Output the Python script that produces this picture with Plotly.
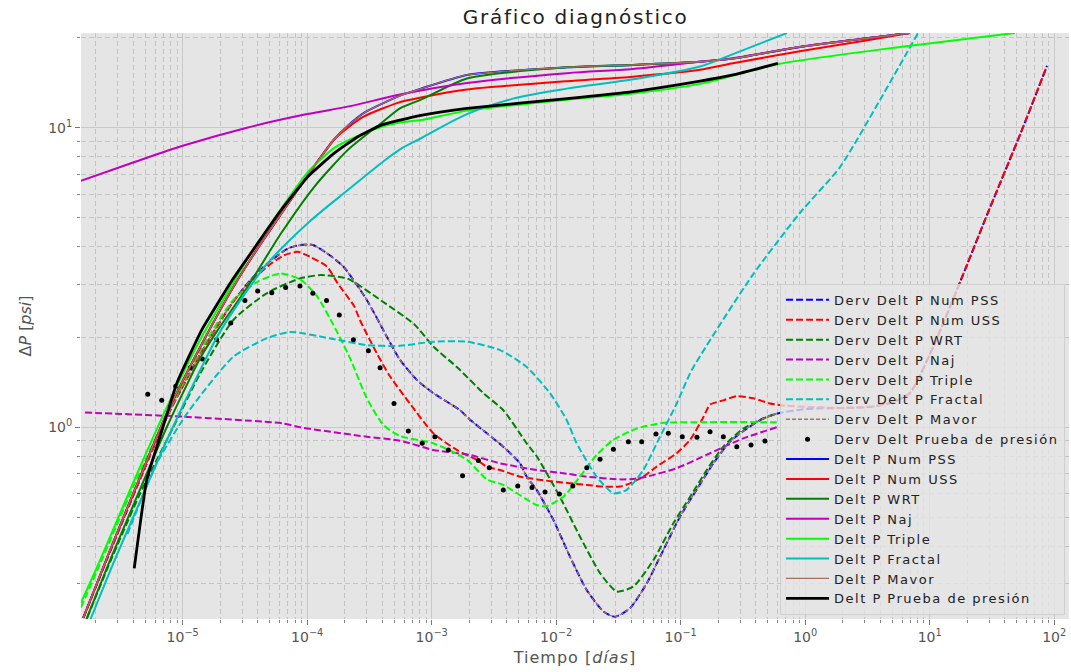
import numpy as np
import plotly.graph_objects as go

# ---------------- derivative curves (dashed) ----------------
t_dpss = [1.59e-6, 2.61e-6, 4.54e-6, 7.44e-6, 1.38e-5, 2.5e-5, 3.5e-5, 4.82e-5, 7.0e-5, 8.75e-5,
          1.11e-4, 1.44e-4, 1.95e-4, 3.01e-4, 4.35e-4, 5.56e-4, 7.58e-4, 1.03e-3, 1.69e-3, 2.03e-3,
          2.77e-3, 3.76e-3, 5.12e-3, 5.79e-3, 6.97e-3, 9.48e-3, 1.29e-2, 1.76e-2, 2.39e-2, 2.97e-2,
          3.92e-2, 5.33e-2, 7.25e-2, 9.87e-2, 0.134, 0.183, 0.249, 0.339, 0.461, 0.59,
          1.0, 2.0, 3.3, 5.0, 6.93, 10.7, 19.2, 27.8, 55.1, 87.5]
d_pss = [0.231, 0.385, 0.67, 1.08, 1.75, 2.6, 3.1, 3.53, 3.95, 4.06,
         4.06, 3.81, 3.44, 2.66, 2.01, 1.68, 1.44, 1.30, 1.14, 1.06,
         0.955, 0.861, 0.758, 0.684, 0.618, 0.491, 0.370, 0.286, 0.243, 0.233,
         0.249, 0.301, 0.389, 0.503, 0.618, 0.758, 0.895, 0.99, 1.07, 1.11,
         1.15, 1.16, 1.17, 1.21, 1.30, 1.86, 3.35, 4.92, 9.83, 16.07]

t_duss = [1.59e-6, 2.61e-6, 4.54e-6, 7.44e-6, 1.38e-5, 2.5e-5, 3.5e-5, 4.82e-5, 6.5e-5, 8.4e-5,
          1.05e-4, 1.44e-4, 1.76e-4, 2.39e-4, 2.65e-4, 3.61e-4, 4.62e-4, 6.68e-4, 1.03e-3, 1.59e-3,
          2.3e-3, 2.77e-3, 3.54e-3, 5.12e-3, 9.48e-3, 1.76e-2, 2.39e-2, 3.25e-2, 3.92e-2, 5.01e-2,
          6.41e-2, 9.28e-2, 0.119, 0.152, 0.172, 0.22, 0.282, 0.383, 0.521, 0.7,
          1.0, 2.0, 3.3, 5.0, 6.93, 10.7, 19.2, 27.8, 55.1, 87.5]
d_uss = [0.231, 0.385, 0.67, 1.08, 1.75, 2.6, 3.05, 3.45, 3.75, 3.85,
         3.71, 3.44, 3.02, 2.53, 2.28, 1.77, 1.48, 1.20, 0.955, 0.84,
         0.778, 0.739, 0.72, 0.684, 0.659, 0.642, 0.634, 0.634, 0.65, 0.684,
         0.739, 0.819, 0.908, 1.08, 1.19, 1.23, 1.27, 1.25, 1.20, 1.18,
         1.17, 1.16, 1.17, 1.21, 1.30, 1.86, 3.35, 4.92, 9.83, 16.07]

t_dwrt = [1.59e-6, 2.61e-6, 4.54e-6, 8.4e-6, 1.38e-5, 2.55e-5, 4.72e-5, 8.75e-5, 1.29e-4, 2.12e-4,
          3.92e-4, 7.3e-4, 1.03e-3, 1.59e-3, 2.6e-3, 3.76e-3, 5.79e-3, 6.97e-3, 1.07e-2, 1.55e-2,
          2.25e-2, 3.06e-2, 4.16e-2, 6.03e-2, 8.73e-2, 0.119, 0.162, 0.22, 0.318, 0.461, 0.59]
d_wrt = [0.215, 0.355, 0.6, 1.0, 1.51, 2.28, 2.80, 3.14, 3.22, 3.13,
         2.65, 2.2, 1.86, 1.59, 1.30, 1.14, 0.884, 0.80, 0.586, 0.432,
         0.326, 0.283, 0.294, 0.36, 0.478, 0.586, 0.72, 0.862, 0.99, 1.07, 1.11]

t_dnaj = [1.64e-6, 1.0e-5, 6.4e-5, 8.75e-5, 3.01e-4, 5.56e-4, 1.03e-3, 2.03e-3, 3.54e-3, 6.97e-3,
          1.21e-2, 1.76e-2, 3.25e-2, 4.16e-2, 5.33e-2, 9.28e-2, 0.172, 0.318, 0.59]
d_naj = [1.12, 1.085, 1.03, 1.0, 0.93, 0.902, 0.84, 0.808, 0.758, 0.72,
         0.70, 0.684, 0.67, 0.672, 0.684, 0.73, 0.819, 0.918, 1.0]

t_dtri = [1.52e-6, 2.17e-6, 3.99e-6, 7.48e-6, 1.38e-5, 2.55e-5, 4.0e-5, 6.05e-5, 8.75e-5, 1.19e-4,
          1.62e-4, 2.21e-4, 3.01e-4, 4.08e-4, 5.56e-4, 1.03e-3, 1.91e-3, 2.77e-3, 3.76e-3, 6.97e-3,
          8.4e-3, 1.14e-2, 1.55e-2, 2.11e-2, 2.88e-2, 4.43e-2, 7.25e-2, 0.152, 0.59]
d_tri = [0.25, 0.35, 0.63, 1.1, 1.8, 2.66, 3.06, 3.26, 3.12, 2.75,
         2.2, 1.70, 1.25, 1.02, 0.935, 0.884, 0.78, 0.67, 0.642, 0.55,
         0.546, 0.586, 0.684, 0.808, 0.908, 0.99, 1.035, 1.04, 1.04]

t_dfra = [3.6e-6, 6.19e-6, 1.08e-5, 2.55e-5, 4.72e-5, 7.3e-5, 1.62e-4, 3.01e-4, 5.56e-4, 1.03e-3,
          1.91e-3, 3.54e-3, 5.79e-3, 8.91e-3, 1.21e-2, 1.46e-2, 2.11e-2, 2.88e-2, 3.68e-2, 5.01e-2,
          6.82e-2, 9.29e-2, 0.1225, 0.374, 0.91, 1.91, 4.0, 8.07]
d_fra = [0.44, 0.758, 1.11, 1.72, 1.98, 2.08, 1.97, 1.88, 1.87, 1.93,
         1.93, 1.81, 1.59, 1.30, 1.06, 0.884, 0.684, 0.602, 0.618, 0.72,
         0.93, 1.20, 1.55, 3.2, 5.2, 7.4, 12.4, 20.7]

# Mavor derivative overlaps the PSS derivative up to the end of the test
t_dmav = t_dpss[:40]
d_mav = d_pss[:40]

# measured pressure derivative (points)
t_dtest = [5.24e-6, 6.78e-6, 8.79e-6, 1.15e-5, 1.44e-5, 1.87e-5, 2.43e-5, 3.16e-5, 4.0e-5, 5.19e-5,
           6.71e-5, 8.75e-5, 1.11e-4, 1.43e-4, 1.81e-4, 2.35e-4, 3.1e-4, 3.85e-4, 4.98e-4, 6.49e-4,
           8.4e-4, 1.06e-3, 1.36e-3, 1.77e-3, 2.37e-3, 2.9e-3, 3.76e-3, 4.91e-3, 6.39e-3, 8.13e-3,
           1.06e-2, 1.36e-2, 1.76e-2, 2.25e-2, 2.88e-2, 3.8e-2, 4.86e-2, 6.33e-2, 7.95e-2, 0.103,
           0.135, 0.172, 0.22, 0.282, 0.367, 0.475]
d_test = [1.29, 1.23, 1.37, 1.58, 1.69, 1.96, 2.23, 2.65, 2.85, 2.81,
          2.93, 2.96, 2.80, 2.65, 2.37, 1.96, 1.80, 1.58, 1.20, 0.972,
          0.885, 0.93, 0.84, 0.689, 0.774, 0.733, 0.618, 0.637, 0.629, 0.608,
          0.599, 0.637, 0.733, 0.782, 0.845, 0.895, 0.895, 0.95, 0.955, 0.93,
          0.926, 0.967, 0.93, 0.861, 0.873, 0.90]

# ---------------- pressure change curves (solid) ----------------
t_pss = [1.59e-6, 2.61e-6, 4.54e-6, 7.44e-6, 1.38e-5, 2.55e-5, 3.93e-5, 6.17e-5, 1.14e-4, 1.65e-4,
         2.12e-4, 2.86e-4, 5.33e-4, 8.2e-4, 1.92e-3, 1.22e-2, 4.14e-2, 0.143, 0.263, 0.906, 6.93]
p_pss = [0.231, 0.389, 0.682, 1.11, 1.85, 2.94, 3.91, 5.15, 7.45, 9.15,
         10.15, 11.2, 12.7, 13.5, 15.0, 15.9, 16.2, 16.6, 17.0, 18.6, 20.7]

t_uss = [1.59e-6, 2.61e-6, 4.54e-6, 7.44e-6, 1.38e-5, 2.55e-5, 3.93e-5, 6.17e-5, 1.14e-4, 1.65e-4,
         2.12e-4, 2.86e-4, 5.33e-4, 8.2e-4, 1.92e-3, 1.22e-2, 4.14e-2, 0.143, 0.263, 0.906, 3.0, 6.93]
p_uss = [0.231, 0.389, 0.682, 1.11, 1.85, 2.94, 3.91, 5.15, 7.45, 9.15,
         10.0, 10.9, 12.1, 12.6, 13.4, 14.3, 14.8, 15.6, 16.4, 18.0, 19.5, 20.7]

t_wrt = [1.59e-6, 2.61e-6, 4.54e-6, 7.44e-6, 1.38e-5, 1.91e-5, 3.33e-5, 6.17e-5, 1.14e-4, 2.12e-4,
         3.92e-4, 5.56e-4, 8.2e-4, 1.92e-3, 1.22e-2, 4.14e-2, 0.143, 0.263, 0.906, 6.93]
p_wrt = [0.215, 0.36, 0.62, 1.0, 1.7, 2.11, 2.95, 4.44, 6.35, 8.43,
         10.35, 11.6, 12.4, 14.6, 15.9, 16.2, 16.6, 17.0, 18.6, 20.7]

t_naj = [1.52e-6, 4.0e-6, 1.0e-5, 3.28e-5, 1.0e-4, 2.21e-4, 5.56e-4, 1.92e-3, 1.22e-2, 4.14e-2,
         0.143, 0.263, 0.906, 6.93]
p_naj = [6.65, 7.65, 8.7, 10.0, 11.1, 11.8, 12.9, 14.1, 15.2, 15.7,
         16.6, 17.06, 18.6, 20.7]

t_tri = [1.52e-6, 2.17e-6, 3.99e-6, 7.48e-6, 1.38e-5, 2.54e-5, 3.67e-5, 6.17e-5, 1.01e-4, 1.65e-4,
         2.55e-4, 3.92e-4, 5.56e-4, 8.2e-4, 1.92e-3, 1.22e-2, 4.14e-2, 0.143, 0.604, 5.77, 48.4]
p_tri = [0.259, 0.36, 0.652, 1.17, 1.96, 3.03, 3.91, 5.36, 7.11, 8.56,
         9.38, 10.05, 10.4, 10.6, 11.4, 12.4, 13.0, 14.0, 16.3, 18.6, 20.7]

t_fra = [1.6e-6, 2.6e-6, 4.5e-6, 7.4e-6, 1.38e-5, 2.03e-5, 4.82e-5, 1.01e-4, 2.12e-4, 3.92e-4,
         5.56e-4, 8.2e-4, 1.92e-3, 4.5e-3, 1.22e-2, 4.14e-2, 0.143, 0.263, 0.713]
p_fra = [0.2, 0.33, 0.56, 0.9, 1.55, 2.11, 3.53, 4.80, 6.19, 7.61,
         8.47, 9.22, 11.1, 12.5, 13.5, 14.5, 16.0, 17.6, 20.7]

# Mavor pressure response overlaps the PSS solution
t_mav = t_pss
p_mav = p_pss

t_test = [4.08e-6, 5.14e-6, 6.57e-6, 8.95e-6, 1.42e-5, 2.5e-5, 4.0e-5, 6.17e-5, 1.01e-4, 1.65e-4,
          2.55e-4, 3.92e-4, 5.56e-4, 8.2e-4, 1.92e-3, 1.22e-2, 4.14e-2, 0.143, 0.263, 0.604]
p_test = [0.338, 0.667, 0.93, 1.40, 2.11, 3.1, 4.11, 5.31, 6.86, 8.22,
          9.33, 10.2, 10.6, 11.0, 11.6, 12.5, 13.2, 14.3, 15.0, 16.4]

# ---------------- styles ----------------
BLUE, RED, DGREEN = "#0000ff", "#ff0000", "#008000"
MAG, LIME, CYAN = "#bf00bf", "#00ff00", "#00bfbf"
BROWN, BLACK = "#a86f5a", "#000000"
DASH = "7px,3px"
DASH_THIN = "4px,2px"
SMOOTH = 0.6

fig = go.Figure()


def spaced(text, px):
    return '<span style="letter-spacing:%spx">%s</span>' % (px, text)


def add_line(t, v, name, color, width=2.0, dash="solid", smooth=SMOOTH):
    fig.add_trace(go.Scatter(x=t, y=v, mode="lines", name=spaced(name, 1.5),
                             line=dict(color=color, width=width, dash=dash,
                                       shape="spline", smoothing=smooth)))


add_line(t_dpss, d_pss, "Derv Delt P Num PSS", BLUE, dash=DASH)
add_line(t_duss, d_uss, "Derv Delt P Num USS", RED, dash=DASH)
add_line(t_dwrt, d_wrt, "Derv Delt P WRT", DGREEN, dash=DASH)
add_line(t_dnaj, d_naj, "Derv Delt P Naj", MAG, dash=DASH)
add_line(t_dtri, d_tri, "Derv Delt P Triple", LIME, dash=DASH)
add_line(t_dfra, d_fra, "Derv Delt P Fractal", CYAN, dash=DASH)
add_line(t_dmav, d_mav, "Derv Delt P Mavor", BROWN, width=1.3, dash=DASH_THIN)
fig.add_trace(go.Scatter(x=t_dtest, y=d_test, mode="markers",
                         name=spaced("Derv Delt Prueba de presión", 1.5),
                         marker=dict(color=BLACK, size=5)))
add_line(t_pss, p_pss, "Delt P Num PSS", BLUE)
add_line(t_uss, p_uss, "Delt P Num USS", RED)
add_line(t_wrt, p_wrt, "Delt P WRT", DGREEN)
add_line(t_naj, p_naj, "Delt P Naj", MAG, smooth=0.9)
add_line(t_tri, p_tri, "Delt P Triple", LIME)
add_line(t_fra, p_fra, "Delt P Fractal", CYAN, smooth=0.9)
add_line(t_mav, p_mav, "Delt P Mavor", BROWN, width=1.3)
add_line(t_test, p_test, "Delt P Prueba de presión", BLACK, width=2.8, smooth=0.4)

# ---------------- axes ----------------
def sup(e):
    return "10<sup>" + (str(e) if e >= 0 else "\u2212" + str(-e)) + "</sup>"


x_major = [10.0 ** e for e in range(-5, 3)]
y_major = [1.0, 10.0]
x_minor = [k * 10.0 ** e for e in range(-6, 3) for k in range(2, 10)]
y_minor = [k * 10.0 ** e for e in range(-1, 2) for k in range(2, 10)]

tick_font = dict(family="DejaVu Sans", size=14, color="#555555")
minor_style = dict(tickmode="array", ticks="outside", ticklen=3, tickcolor="#888888",
                   showgrid=True, gridcolor="#c4c4c4", griddash="5px,3px", gridwidth=1)
common = dict(type="log", showline=False, zeroline=False,
              ticks="outside", ticklen=5, tickwidth=1, tickcolor="#777777",
              showgrid=True, gridcolor="#c8c8c8", gridwidth=1.3,
              tickfont=tick_font)

fig.update_xaxes(range=[-5.817, 2.119], tickmode="array", tickvals=x_major,
                 ticktext=[sup(e) for e in range(-5, 3)],
                 minor=dict(tickvals=x_minor, **minor_style),
                 title=dict(text=spaced("Tiempo [<i>días</i>]", 1), standoff=8,
                            font=dict(family="DejaVu Sans", size=16, color="#555555")),
                 **common)
fig.update_yaxes(range=[-0.640, 1.316], tickmode="array", tickvals=y_major,
                 ticktext=[sup(0), sup(1)],
                 minor=dict(tickvals=y_minor, **minor_style),
                 title=dict(text="Δ<i>P</i> [<i>psi</i>]", standoff=12,
                            font=dict(family="DejaVu Sans", size=16, color="#555555")),
                 **common)

fig.update_layout(
    width=1071, height=672,
    margin=dict(l=81, r=2, t=33, b=53),
    paper_bgcolor="white", plot_bgcolor="#e5e5e5",
    title=dict(text=spaced("Gráfico diagnóstico", 1.7), x=0.5375, xanchor="center",
               y=1 - 17 / 672, yanchor="middle",
               font=dict(family="DejaVu Sans", size=20, color="#222222")),
    legend=dict(x=0.996, y=0.007, xanchor="right", yanchor="bottom",
                bgcolor="rgba(229,229,229,0.8)", bordercolor="rgba(205,205,205,0.9)",
                borderwidth=1, font=dict(family="DejaVu Sans", size=13, color="#222222"),
                tracegroupgap=0, itemwidth=43),
    font=dict(family="DejaVu Sans"),
)

fig.write_html("out.html")
